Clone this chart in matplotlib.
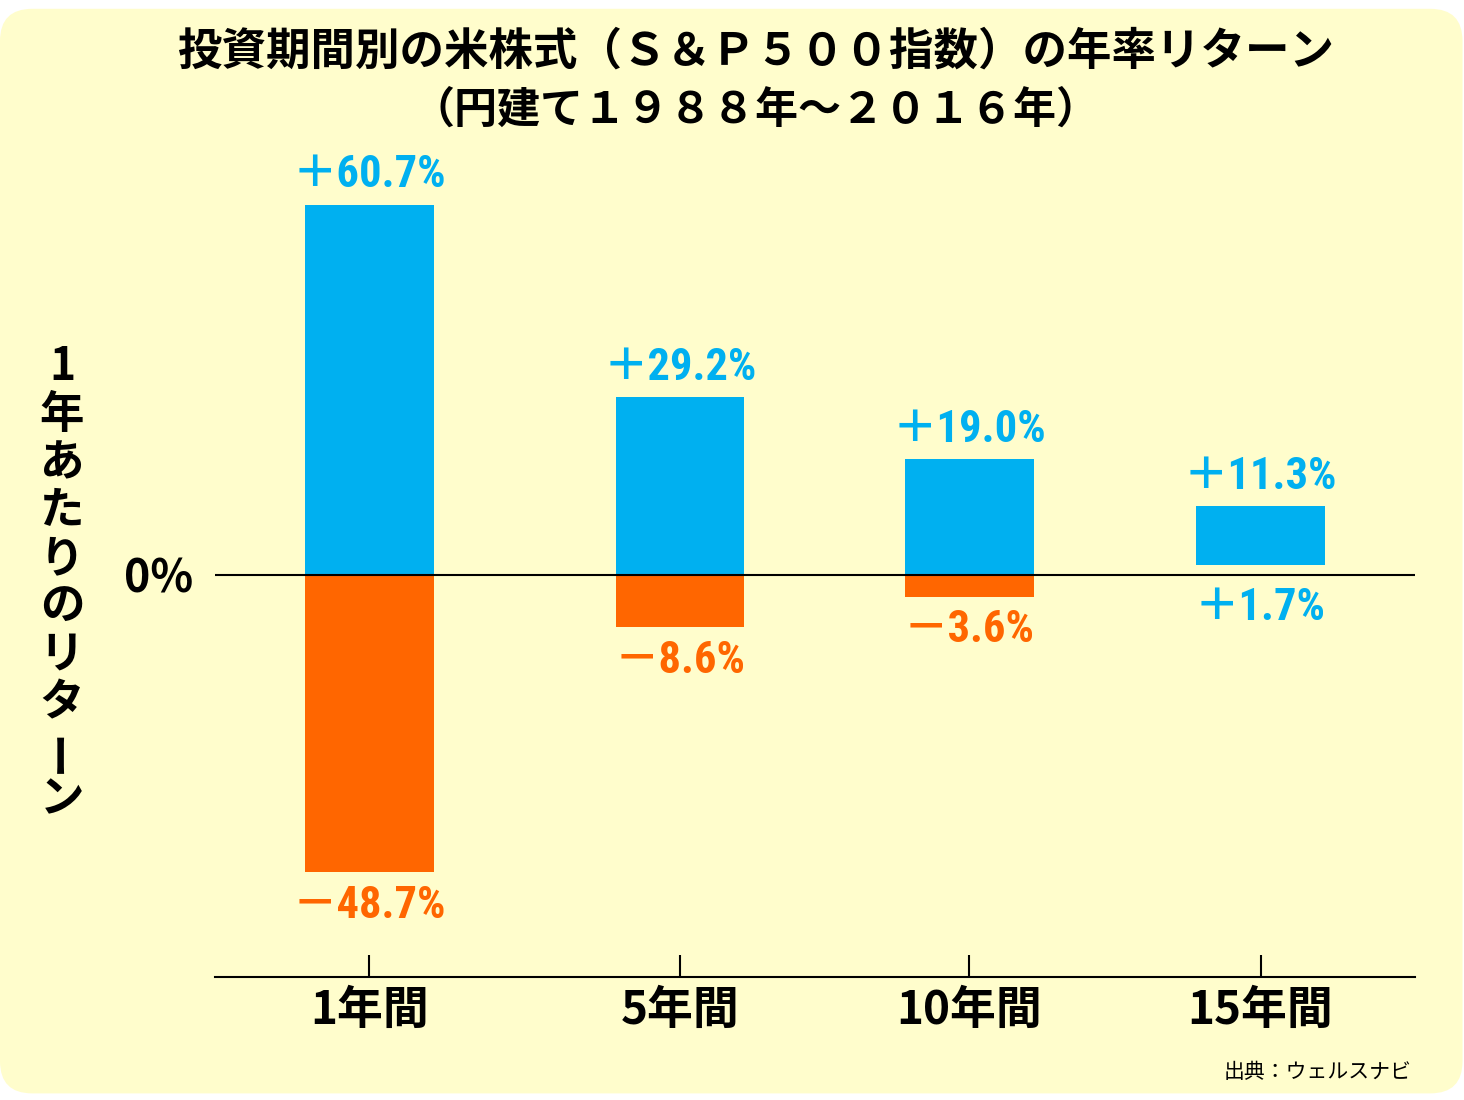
import matplotlib
matplotlib.use("Agg")
import matplotlib.pyplot as plt
import numpy as np
from matplotlib import font_manager
from matplotlib.patches import FancyBboxPatch

# data
periods = ["1年間", "5年間", "10年間", "15年間"]
best = [60.7, 29.2, 19.0, 11.3]     # best annual return
worst = [-48.7, -8.6, -3.6, 1.7]    # worst annual return

title_lines = ["投資期間別の米株式（Ｓ＆Ｐ５００指数）の年率リターン",
               "（円建て１９８８年～２０１６年）"]
ylabel_text = "1年あたりのリターン"
source = "出典：ウェルスナビ"

BLUE = "#00B0F0"
ORANGE = "#FF6600"
BG = "#FFFDCC"

# category centres are not quite evenly spaced in the original layout
bar_pos = np.array([0.0, 1.045, 2.02, 3.0])

JP = "Noto Sans CJK JP"
names = {f.name for f in font_manager.fontManager.ttflist}
narrow = next((n for n in ["Roboto Condensed", "Liberation Sans Narrow",
                           "Open Sans Condensed"] if n in names), "Roboto")
plt.rcParams["font.family"] = [JP, "DejaVu Sans"]

fig = plt.figure(figsize=(14.64, 11), dpi=100)
fig.patch.set_facecolor("white")

# rounded yellow panel
panel = FancyBboxPatch((0.0, 0.006), 0.999, 0.986,
                       boxstyle="round,pad=0,rounding_size=0.022",
                       mutation_aspect=1464 / 1100,
                       transform=fig.transFigure, facecolor=BG,
                       edgecolor="none", zorder=-10)
fig.patches.append(panel)

ax = fig.add_axes([215 / 1464, 123 / 1100, 1200 / 1464, 837 / 1100])
ax.set_facecolor("none")
ax.set_zorder(1)

x = bar_pos
best_a = np.array(best)
worst_a = np.array(worst)
pos_bottom = np.maximum(worst_a, 0)
neg = np.minimum(worst_a, 0)

ax.bar(x, best_a - pos_bottom, bottom=pos_bottom, width=0.433, color=BLUE, zorder=2)
mask = neg < 0
ax.bar(x[mask], neg[mask], width=0.433, color=ORANGE, zorder=2)
ax.axhline(0, color="black", lw=1.5, zorder=3)

ax.set_xlim(-0.52, 3.52)
ax.set_ylim(-65.9, 71.3)

for s in ["left", "top", "right"]:
    ax.spines[s].set_visible(False)
ax.spines["bottom"].set_linewidth(1.5)

ax.set_xticks(x, periods, fontsize=33, fontweight="bold")
ax.tick_params(axis="x", direction="in", length=16, width=1.5, pad=8)
ax.set_yticks([0], ["0%"], fontsize=32, fontweight="bold")
ax.tick_params(axis="y", length=0, pad=16)

# value labels
for xi, b, w in zip(x, best, worst):
    ax.annotate(f"＋{b:.1f}%", (xi, b), xytext=(0, 6), textcoords="offset points",
                ha="center", va="bottom", color=BLUE, fontsize=32,
                family=[narrow, JP], fontweight="bold")
    sign = "＋" if w > 0 else "－"
    col = BLUE if w > 0 else ORANGE
    ax.annotate(f"{sign}{abs(w):.1f}%", (xi, min(w, 0)), xytext=(0, -9),
                textcoords="offset points", ha="center", va="top", color=col,
                fontsize=32, family=[narrow, JP], fontweight="bold")

# titles
fig.text(0.516, 1 - 52 / 1100, title_lines[0], ha="center", va="center",
         fontsize=32, fontweight="bold")
fig.text(0.516, 1 - 110 / 1100, title_lines[1], ha="center", va="center",
         fontsize=31, fontweight="bold")

# vertical y label, one character per row
for i, ch in enumerate(ylabel_text):
    fig.text(62 / 1464, 1 - (367 + i * 48) / 1100, ch, ha="center", va="center",
             fontsize=32, fontweight="bold", rotation=90 if ch == "ー" else 0)

fig.text(1412 / 1464, 1 - 1072 / 1100, source, ha="right", va="center", fontsize=15)

fig.savefig("out.png", dpi=100, facecolor=fig.get_facecolor())
